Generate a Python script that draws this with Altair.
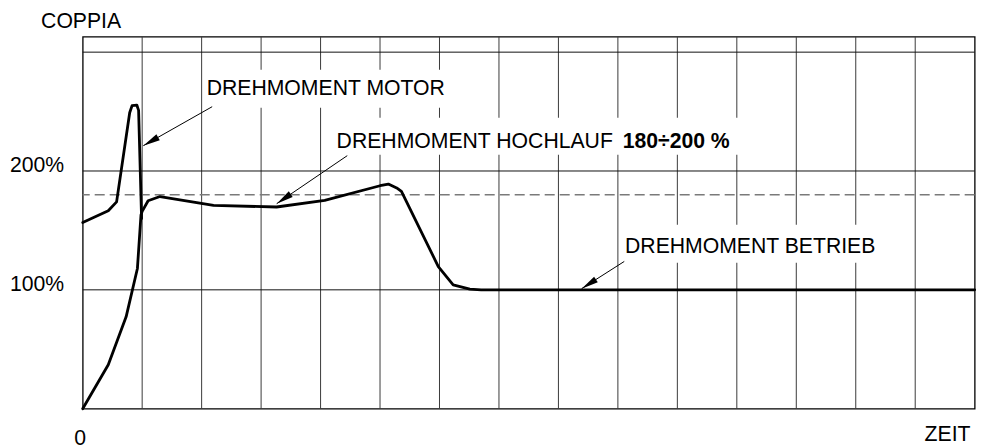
import math
import altair as alt
import pandas as pd

# ---------------- data ----------------
# x: time in grid units (0..15), y: torque in %
motor_x = [0, 0.43, 0.57, 0.79, 0.83, 0.91, 0.94, 0.99]
motor_y = [156.7, 166.6, 174, 249, 255, 255.5, 251, 160]

run_x = [0, 0.43, 0.73, 0.92, 0.98, 1.0, 1.10, 1.30, 2.20, 3.26, 4.07, 5.0,
         5.14, 5.28, 5.36, 5.98, 6.23, 6.51, 6.7, 15]
run_y = [0, 37, 77.3, 118, 163, 166, 175, 178.5, 171, 169.7, 175.3, 187.6,
         189, 185.7, 182.8, 119.6, 104.2, 100.6, 100, 100]

grid_x = list(range(1, 15))
grid_y = [100, 200, 300]
y_ticks = [100, 200]
ref_level = [180]

# annotation texts (x = left/anchor, y = baseline, in data units)
label_text = ["DREHMOMENT MOTOR", "DREHMOMENT HOCHLAUF", "DREHMOMENT BETRIEB"]
label_x = [2.085, 4.27, 9.12]
label_y = [263.8, 219.6, 131.3]

bold_text = ["180÷200 %"]
bold_x = [9.08]
bold_y = [219.6]

# white boxes behind the labels (break the grid lines)
box_x = [2.04, 4.16, 9.03]
box_x2 = [6.14, 11.05, 13.44]
box_y = [253.3, 213.7, 122.8]
box_y2 = [285.2, 244.8, 154.8]

# arrows: tail -> tip
arr_x = [2.177, 4.449, 9.107]
arr_y = [254.1, 212.9, 123.9]
arr_x2 = [1.019, 3.262, 8.39]
arr_y2 = [221.3, 172.5, 101.0]

axis_text = ["COPPIA", "0", "ZEIT"]
axis_tx = [-0.70, -0.045, 14.93]
axis_ty = [320.3, -30.3, -26.9]
axis_align = ["left", "center", "right"]

# ---------------- chart ----------------
W, H = 892, 372
XMAX, YMAX = 15, 313
FONT = "Liberation Sans"
FS = 21.2

xs = alt.Scale(domain=[0, XMAX], nice=False, zero=False)
ys = alt.Scale(domain=[0, YMAX], nice=False)

sx = W / XMAX
sy = H / YMAX

curves = pd.DataFrame(
    [{"s": "motor", "i": i, "x": a, "y": b} for i, (a, b) in enumerate(zip(motor_x, motor_y))]
    + [{"s": "run", "i": i, "x": a, "y": b} for i, (a, b) in enumerate(zip(run_x, run_y))]
)

vgrid = alt.Chart(pd.DataFrame({"x": grid_x})).mark_rule(color="#3a3a3a", strokeWidth=1).encode(
    x=alt.X("x:Q", scale=xs, axis=None)
)
hgrid = alt.Chart(pd.DataFrame({"y": grid_y})).mark_rule(color="#111", strokeWidth=1).encode(
    y=alt.Y("y:Q", scale=ys,
            axis=alt.Axis(values=y_ticks, labelExpr="datum.value + '%'", title=None,
                          domain=False, ticks=False, grid=False, labelPadding=19,
                          labelFontSize=FS, labelFont=FONT, labelColor="black",
                          labelBaseline="alphabetic", labelOffset=1))
)
dashed = alt.Chart(pd.DataFrame({"y": ref_level})).mark_rule(
    color="#7a7a7a", strokeWidth=1.6, strokeDash=[10, 5]
).encode(y=alt.Y("y:Q", scale=ys))

boxes = alt.Chart(pd.DataFrame({"x": box_x, "x2": box_x2, "y": box_y, "y2": box_y2})).mark_rect(
    fill="white", strokeWidth=0
).encode(x=alt.X("x:Q", scale=xs), x2="x2:Q", y=alt.Y("y:Q", scale=ys), y2="y2:Q")

lines = alt.Chart(curves).mark_line(
    color="black", strokeWidth=2.8, strokeJoin="round", strokeCap="round"
).encode(
    x=alt.X("x:Q", scale=xs),
    y=alt.Y("y:Q", scale=ys),
    detail="s:N",
    order="i:Q",
)

angles = []
for a, b, c, d in zip(arr_x, arr_y, arr_x2, arr_y2):
    dxp = (c - a) * sx
    dyp = -(d - b) * sy
    angles.append(math.degrees(math.atan2(dxp, -dyp)) % 360)

arrows_df = pd.DataFrame({"x": arr_x, "y": arr_y, "x2": arr_x2, "y2": arr_y2, "angle": angles})
arrow_lines = alt.Chart(arrows_df).mark_rule(color="black", strokeWidth=1).encode(
    x=alt.X("x:Q", scale=xs), y=alt.Y("y:Q", scale=ys), x2="x2:Q", y2="y2:Q"
)
heads = alt.Chart(arrows_df).mark_point(
    shape="M0,0L0.2,1L-0.2,1Z", filled=True, color="black", opacity=1, size=1156
).encode(
    x=alt.X("x2:Q", scale=xs), y=alt.Y("y2:Q", scale=ys),
    angle=alt.Angle("angle:Q", scale=None),
)

labels = alt.Chart(pd.DataFrame({"t": label_text, "x": label_x, "y": label_y})).mark_text(
    align="left", baseline="alphabetic", font=FONT, fontSize=FS, color="black"
).encode(x=alt.X("x:Q", scale=xs), y=alt.Y("y:Q", scale=ys), text="t:N")

bold = alt.Chart(pd.DataFrame({"t": bold_text, "x": bold_x, "y": bold_y})).mark_text(
    align="left", baseline="alphabetic", font=FONT, fontSize=FS, fontWeight="bold", color="black"
).encode(x=alt.X("x:Q", scale=xs), y=alt.Y("y:Q", scale=ys), text="t:N")

axis_labels = []
for t, a, b, al in zip(axis_text, axis_tx, axis_ty, axis_align):
    axis_labels.append(
        alt.Chart(pd.DataFrame({"t": [t], "x": [a], "y": [b]})).mark_text(
            align=al, baseline="alphabetic", font=FONT, fontSize=FS, color="black"
        ).encode(x=alt.X("x:Q", scale=xs), y=alt.Y("y:Q", scale=ys), text="t:N")
    )

chart = alt.layer(
    vgrid, hgrid, dashed, boxes, lines, arrow_lines, heads, labels, bold, *axis_labels
).properties(
    width=W, height=H,
    background="white",
    autosize=alt.AutoSizeParams(type="none"),
    padding={"left": 74.7, "top": 28.7, "right": 5, "bottom": 48},
).configure_view(
    stroke="black", strokeWidth=1.3
)

chart.save("out.html", embed_options={"renderer": "svg", "actions": False})
